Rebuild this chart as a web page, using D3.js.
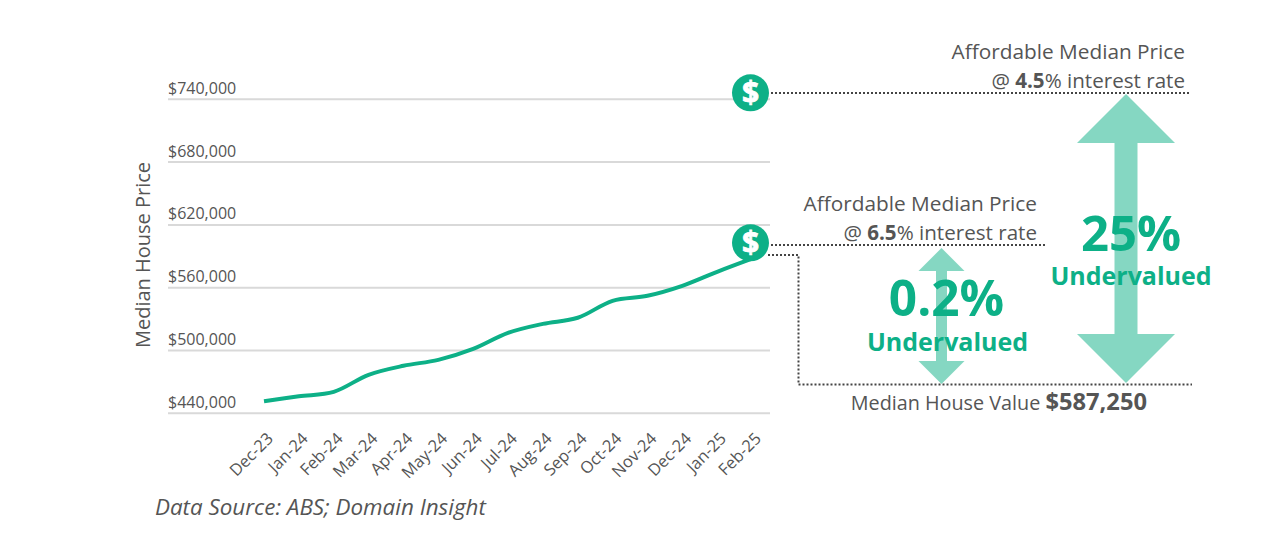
<!DOCTYPE html>
<html>
<head>
<meta charset="utf-8">
<script src="https://cdn.jsdelivr.net/npm/d3@7"></script>
<style>
  html, body { margin: 0; padding: 0; background: #fff; }
  svg { display: block; font-family: "Open Sans", sans-serif; }
</style>
</head>
<body>
<div id="chart"></div>
<script>
// Chart values
const months = ["Dec-23", "Jan-24", "Feb-24", "Mar-24", "Apr-24", "May-24", "Jun-24", "Jul-24",
    "Aug-24", "Sep-24", "Oct-24", "Nov-24", "Dec-24", "Jan-25", "Feb-25"];
const medianPrices = [451000, 455800, 460000, 476300, 484900, 490600, 501100, 516400,
    525000, 530800, 547000, 551800, 561300, 574700, 587250];
const priceTicks = [440000, 500000, 560000, 620000, 680000, 740000];
const iconPrices = [745700, 602400];

const green = "#0DB087";
const lightGreen = "#85D7C2";
const textGrey = "#555555";
const dotGrey = "#444444";

const svg = d3.select("#chart").append("svg")
    .attr("width", 1271)
    .attr("height", 544);

const xScale = d3.scalePoint().domain(months).range([264, 752]);
const yScale = d3.scaleLinear().domain([440000, 740000]).range([412.8, 98.8]);

// y axis: gridlines with the labels sitting above them
const yAxis = svg.append("g")
    .attr("transform", "translate(770,0)")
    .call(d3.axisLeft(yScale).tickValues(priceTicks).tickSize(602).tickFormat(d3.format("$,")));
yAxis.select(".domain").remove();
yAxis.selectAll("line").attr("stroke", "#D9D9D9").attr("stroke-width", 2);
yAxis.selectAll("text")
    .attr("x", -602)
    .attr("dy", "-5.5")
    .attr("text-anchor", "start")
    .attr("font-size", 16)
    .attr("font-family", "'Open Sans', sans-serif")
    .attr("fill", textGrey);

// x axis
const xAxis = svg.append("g")
    .attr("transform", "translate(0,413)")
    .call(d3.axisBottom(xScale).tickSize(0));
xAxis.select(".domain").remove();
xAxis.selectAll("text")
    .attr("transform", "translate(-5,12) rotate(-45)")
    .attr("text-anchor", "end")
    .attr("x", 0)
    .attr("y", 9)
    .attr("font-size", 16.5)
    .attr("font-family", "'Open Sans', sans-serif")
    .attr("fill", textGrey);

svg.append("text")
    .attr("transform", "translate(150,255) rotate(-90)")
    .attr("text-anchor", "middle")
    .attr("font-size", 20)
    .attr("fill", textGrey)
    .text("Median House Price");

svg.append("text")
    .attr("x", 155)
    .attr("y", 515)
    .attr("font-size", 22.4)
    .attr("font-style", "italic")
    .attr("fill", textGrey)
    .text("Data Source: ABS; Domain Insight");

// double headed arrows
function arrow(cx, top, bottom, headW, headH, shaftW) {
    const pts = [[cx, top], [cx + headW / 2, top + headH], [cx + shaftW / 2, top + headH],
        [cx + shaftW / 2, bottom - headH], [cx + headW / 2, bottom - headH], [cx, bottom],
        [cx - headW / 2, bottom - headH], [cx - shaftW / 2, bottom - headH],
        [cx - shaftW / 2, top + headH], [cx - headW / 2, top + headH]];
    svg.append("polygon")
        .attr("points", pts.map(p => p.join(",")).join(" "))
        .attr("fill", lightGreen);
}
arrow(1126, 94, 383, 98, 49, 23);
arrow(941.5, 248, 384, 46, 23, 11);

// dotted reference lines
const dotted = d3.line();
[
    [[771, 93], [1190, 93]],
    [[771, 245], [1046, 245]],
    [[768, 255], [798.5, 255], [798.5, 384.5], [1192, 384.5]]
].forEach(pts => {
    svg.append("path")
        .attr("d", dotted(pts))
        .attr("fill", "none")
        .attr("stroke", dotGrey)
        .attr("stroke-width", 2)
        .attr("stroke-dasharray", "2 2");
});

// price line
const line = d3.line()
    .x((d, i) => xScale(months[i]))
    .y(d => yScale(d))
    .curve(d3.curveCatmullRom.alpha(0.5));
svg.append("path")
    .datum(medianPrices)
    .attr("d", line)
    .attr("fill", "none")
    .attr("stroke", green)
    .attr("stroke-width", 4);

// dollar icons
iconPrices.forEach(p => {
    const g = svg.append("g").attr("transform", `translate(750.5,${yScale(p)})`);
    g.append("circle").attr("r", 18.5).attr("fill", green);
    g.append("text")
        .attr("text-anchor", "middle")
        .attr("y", 10.5)
        .attr("font-size", 30)
        .attr("font-weight", 700)
        .attr("stroke", "#fff")
        .attr("stroke-width", 0.8)
        .attr("fill", "#fff")
        .text("$");
});

// text labels
function label(x, y, size, weight, fill, parts, anchor) {
    const t = svg.append("text")
        .attr("x", x).attr("y", y)
        .attr("text-anchor", anchor)
        .attr("font-size", size)
        .attr("font-weight", weight)
        .attr("fill", fill);
    parts.forEach(p => {
        t.append("tspan")
            .attr("font-weight", p.bold ? 700 : null)
            .attr("font-size", p.size || null)
            .text(p.text);
    });
}

label(1185, 59, 20.8, 400, textGrey, [{ text: "Affordable Median Price" }], "end");
label(1185, 88, 20.6, 400, textGrey, [{ text: "@ " }, { text: "4.5", bold: true }, { text: "% interest rate" }], "end");
label(1037, 211, 20.8, 400, textGrey, [{ text: "Affordable Median Price" }], "end");
label(1037, 240, 20.6, 400, textGrey, [{ text: "@ " }, { text: "6.5", bold: true }, { text: "% interest rate" }], "end");
label(1147, 410, 19.8, 400, textGrey, [{ text: "Median House Value " }, { text: "$587,250", bold: true, size: 23.7 }], "end");

label(1131, 251, 49, 700, green, [{ text: "25%" }], "middle");
label(1131, 285, 25, 700, green, [{ text: "Undervalued" }], "middle");
label(946.5, 316, 49.5, 700, green, [{ text: "0.2%" }], "middle");
label(947.5, 351, 25, 700, green, [{ text: "Undervalued" }], "middle");
</script>
</body>
</html>
